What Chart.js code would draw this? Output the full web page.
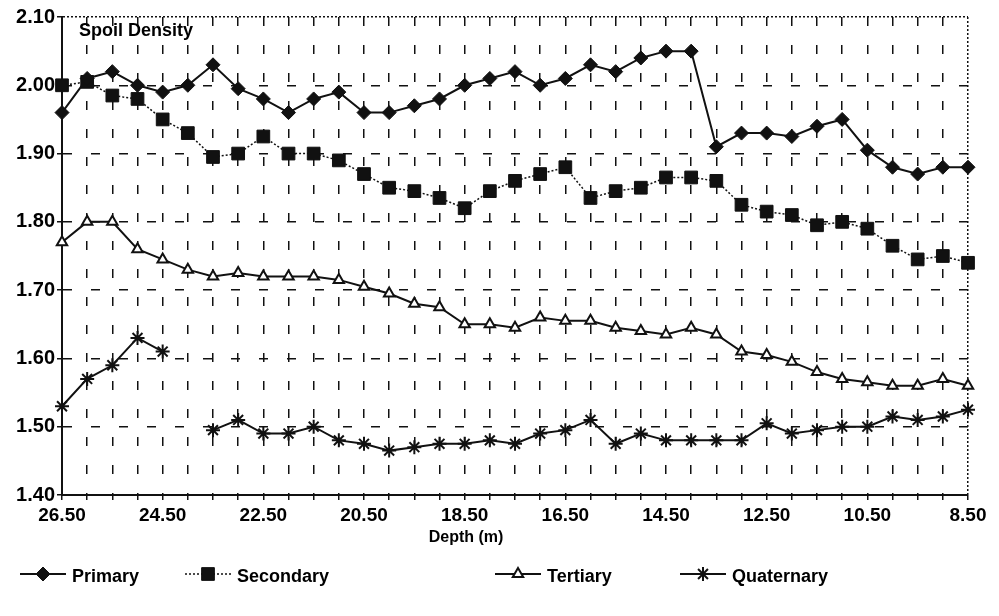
<!DOCTYPE html>
<html>
<head>
<meta charset="utf-8">
<script src="https://cdn.jsdelivr.net/npm/chart.js@4.4.0/dist/chart.umd.min.js"></script>
<style>
    html, body { margin: 0; padding: 0; background: #fff; }
    #wrap { position: relative; width: 999px; height: 616px; }
    #legend { position: absolute; left: 0; top: 564px; width: 999px; height: 30px;
        font-family: "Liberation Sans", Arial, sans-serif; font-size: 18px; font-weight: bold; color: #000; }
    .item { position: absolute; top: 0; display: flex; align-items: center; white-space: nowrap; }
    .item canvas { margin-right: 6px; }
</style>
</head>
<body>
<div id="wrap">
    <canvas id="densityChart"></canvas>
    <div id="legend"></div>
</div>
<script>
const depthLabels = ["26.50", "26.00", "25.50", "25.00", "24.50", "24.00", "23.50", "23.00", "22.50",
    "22.00", "21.50", "21.00", "20.50", "20.00", "19.50", "19.00", "18.50", "18.00", "17.50", "17.00",
    "16.50", "16.00", "15.50", "15.00", "14.50", "14.00", "13.50", "13.00", "12.50", "12.00", "11.50",
    "11.00", "10.50", "10.00", "9.50", "9.00", "8.50"];
const shownDepths = ["26.50", "24.50", "22.50", "20.50", "18.50", "16.50", "14.50", "12.50", "10.50", "8.50"];

const primary = [1.96, 2.01, 2.02, 2.00, 1.99, 2.00, 2.03, 1.995, 1.98, 1.96, 1.98, 1.99, 1.96, 1.96,
    1.97, 1.98, 2.00, 2.01, 2.02, 2.00, 2.01, 2.03, 2.02, 2.04, 2.05, 2.05, 1.91, 1.93, 1.93, 1.925,
    1.94, 1.95, 1.905, 1.88, 1.87, 1.88, 1.88];
const secondary = [2.00, 2.005, 1.985, 1.98, 1.95, 1.93, 1.895, 1.90, 1.925, 1.90, 1.90, 1.89, 1.87,
    1.85, 1.845, 1.835, 1.82, 1.845, 1.86, 1.87, 1.88, 1.835, 1.845, 1.85, 1.865, 1.865, 1.86, 1.825,
    1.815, 1.81, 1.795, 1.80, 1.79, 1.765, 1.745, 1.75, 1.74];
const tertiary = [1.77, 1.80, 1.80, 1.76, 1.745, 1.73, 1.72, 1.725, 1.72, 1.72, 1.72, 1.715, 1.705,
    1.695, 1.68, 1.675, 1.65, 1.65, 1.645, 1.66, 1.655, 1.655, 1.645, 1.64, 1.635, 1.645, 1.635, 1.61,
    1.605, 1.595, 1.58, 1.57, 1.565, 1.56, 1.56, 1.57, 1.56];
const quaternary = [1.53, 1.57, 1.59, 1.63, 1.61, null, 1.495, 1.51, 1.49, 1.49, 1.50, 1.48, 1.475,
    1.465, 1.47, 1.475, 1.475, 1.48, 1.475, 1.49, 1.495, 1.51, 1.475, 1.49, 1.48, 1.48, 1.48, 1.48,
    1.505, 1.49, 1.495, 1.50, 1.50, 1.515, 1.51, 1.515, 1.525];

const seriesNames = ["Primary", "Secondary", "Tertiary", "Quaternary"];

const FONT = "'Liberation Sans', Arial, sans-serif";
const INK = "#111";
const GRID_DASH = [9, 19];
const DOT_DASH = [2, 2];

// text inside the plot and the x axis title
const extraText = {
    id: "extraText",
    afterDraw(chart) {
        const { ctx, chartArea } = chart;
        ctx.save();
        ctx.fillStyle = "#000";
        ctx.textBaseline = "top";
        ctx.font = "bold 18px " + FONT;
        ctx.fillText("Spoil Density", chartArea.left + 17, chartArea.top + 5);
        ctx.font = "bold 16px " + FONT;
        ctx.textAlign = "center";
        ctx.fillText("Depth (m)", chartArea.left + 404, chartArea.bottom + 35);
        ctx.restore();
    }
};

const styles = [
    { borderDash: [], borderWidth: 2, pointStyle: "rectRot", pointRadius: 7, fill: INK, pointBorderWidth: 1 },
    { borderDash: DOT_DASH, borderWidth: 1.5, pointStyle: "rect", pointRadius: 9, fill: INK, pointBorderWidth: 1 },
    { borderDash: [], borderWidth: 2, pointStyle: "triangle", pointRadius: 6, fill: "#fff", pointBorderWidth: 2 },
    { borderDash: [], borderWidth: 2, pointStyle: "star", pointRadius: 7, fill: INK, pointBorderWidth: 2 }
];
const allSeries = [primary, secondary, tertiary, quaternary];

const datasets = allSeries.map((values, i) => ({
    label: seriesNames[i],
    data: values,
    borderColor: INK,
    borderWidth: styles[i].borderWidth,
    borderDash: styles[i].borderDash,
    pointStyle: styles[i].pointStyle,
    pointRadius: styles[i].pointRadius,
    pointBackgroundColor: styles[i].fill,
    pointBorderColor: INK,
    pointBorderWidth: styles[i].pointBorderWidth,
    tension: 0,
    spanGaps: false
}));

const lastIndex = depthLabels.length - 1;

const ctx = document.getElementById("densityChart").getContext("2d");
new Chart(ctx, {
    type: "line",
    data: { labels: depthLabels, datasets: datasets },
    plugins: [extraText],
    options: {
        responsive: true,
        maintainAspectRatio: false,
        animation: false,
        layout: { padding: { top: 17, right: 31, left: 0, bottom: 0 } },
        plugins: {
            legend: { display: false },
            tooltip: { enabled: false }
        },
        scales: {
            x: {
                afterFit(scale) { scale.height = 121; },
                ticks: {
                    autoSkip: false,
                    maxRotation: 0,
                    padding: 4,
                    color: "#000",
                    font: { family: FONT, size: 19, weight: "bold" },
                    callback(value, index) {
                        const label = depthLabels[index];
                        return shownDepths.includes(label) ? label : "";
                    }
                },
                grid: {
                    color: INK,
                    lineWidth: 1.5,
                    tickLength: 5,
                    tickColor: INK,
                    tickWidth: 1.5
                },
                border: {
                    color: INK,
                    width: 2,
                    // in v4 the grid lines take their dash from border.dash
                    dash: (c) => (c.index === lastIndex ? DOT_DASH : GRID_DASH)
                }
            },
            y: {
                min: 1.4,
                max: 2.1,
                afterFit(scale) { scale.width = 62; },
                ticks: {
                    stepSize: 0.1,
                    padding: 2,
                    color: "#000",
                    font: { family: FONT, size: 20, weight: "bold" },
                    callback: (v) => Number(v).toFixed(2)
                },
                grid: {
                    color: INK,
                    lineWidth: 1.5,
                    tickLength: 5,
                    tickColor: INK,
                    tickWidth: 1.5
                },
                border: {
                    color: INK,
                    width: 2,
                    dash: (c) => (c.tick && c.tick.value > 2.05 ? DOT_DASH : GRID_DASH)
                }
            }
        }
    }
});

// html legend with line + marker samples
function drawSample(canvas, s) {
    const g = canvas.getContext("2d");
    const w = canvas.width, h = canvas.height, cy = h / 2 - 2, cx = w / 2;
    g.strokeStyle = INK;
    g.lineWidth = s.borderWidth;
    g.setLineDash(s.borderDash);
    g.beginPath();
    g.moveTo(0, cy);
    g.lineTo(w, cy);
    g.stroke();
    g.setLineDash([]);
    g.fillStyle = s.fill;
    g.lineWidth = s.pointBorderWidth;
    const r = s.pointRadius;
    g.beginPath();
    if (s.pointStyle === "rectRot") {
        g.moveTo(cx, cy - r); g.lineTo(cx + r, cy); g.lineTo(cx, cy + r); g.lineTo(cx - r, cy);
        g.closePath(); g.fill(); g.stroke();
    } else if (s.pointStyle === "rect") {
        const a = r * Math.SQRT1_2;
        g.rect(cx - a, cy - a, 2 * a, 2 * a); g.fill(); g.stroke();
    } else if (s.pointStyle === "triangle") {
        g.moveTo(cx, cy - r); g.lineTo(cx + r * 0.87, cy + r * 0.5); g.lineTo(cx - r * 0.87, cy + r * 0.5);
        g.closePath(); g.fill(); g.stroke();
    } else {
        for (let k = 0; k < 4; k++) {
            const ang = k * Math.PI / 4;
            g.moveTo(cx - Math.cos(ang) * r, cy - Math.sin(ang) * r);
            g.lineTo(cx + Math.cos(ang) * r, cy + Math.sin(ang) * r);
        }
        g.stroke();
    }
}

const legendLeft = [20, 185, 495, 680];
const legendBox = document.getElementById("legend");
seriesNames.forEach((name, i) => {
    const item = document.createElement("div");
    item.className = "item";
    item.style.left = legendLeft[i] + "px";
    const c = document.createElement("canvas");
    c.width = 46;
    c.height = 24;
    drawSample(c, styles[i]);
    const t = document.createElement("span");
    t.textContent = name;
    item.appendChild(c);
    item.appendChild(t);
    legendBox.appendChild(item);
});
</script>
</body>
</html>
